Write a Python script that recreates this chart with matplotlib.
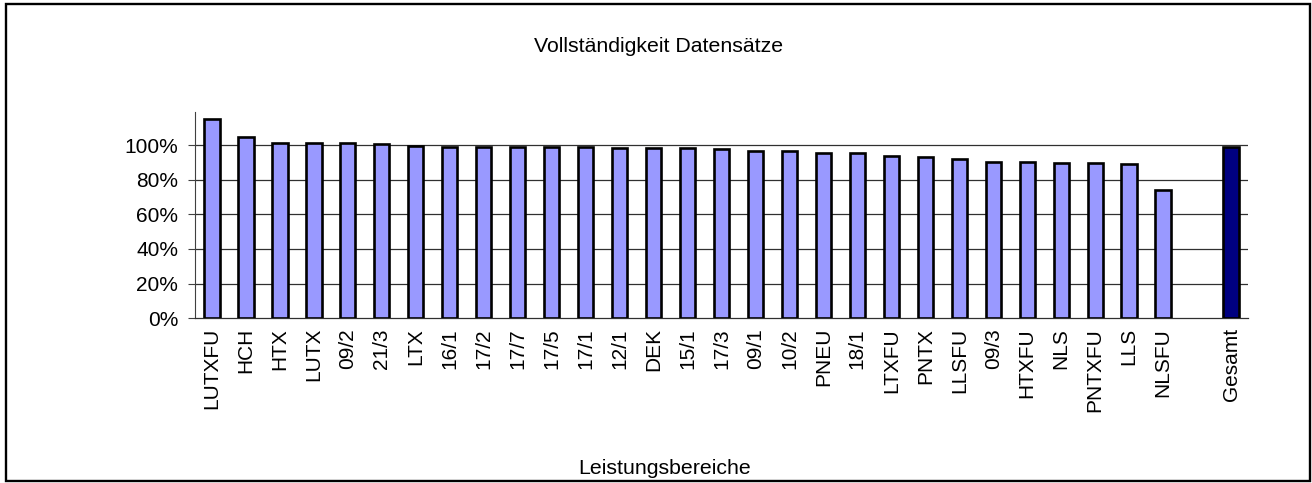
import matplotlib
matplotlib.use("Agg")
import matplotlib.pyplot as plt
from matplotlib.patches import Rectangle

plt.rcParams['font.family'] = ['Liberation Sans', 'DejaVu Sans']

categories = ["LUTXFU", "HCH", "HTX", "LUTX", "09/2", "21/3", "LTX", "16/1", "17/2", "17/7",
              "17/5", "17/1", "12/1", "DEK", "15/1", "17/3", "09/1", "10/2", "PNEU", "18/1",
              "LTXFU", "PNTX", "LLSFU", "09/3", "HTXFU", "NLS", "PNTXFU", "LLS", "NLSFU", "", "Gesamt"]
values = [1.150, 1.044, 1.013, 1.010, 1.010, 1.006, 0.994, 0.990, 0.990, 0.990,
          0.990, 0.987, 0.983, 0.981, 0.981, 0.977, 0.967, 0.967, 0.956, 0.956,
          0.938, 0.929, 0.921, 0.901, 0.900, 0.896, 0.894, 0.889, 0.740, None, 0.988]
ytick_values = [0.0, 0.2, 0.4, 0.6, 0.8, 1.0]
ytick_labels = ["0%", "20%", "40%", "60%", "80%", "100%"]
title = "Vollständigkeit Datensätze"
xlabel = "Leistungsbereiche"

W, H = 1312, 483
fig = plt.figure(figsize=(W / 100, H / 100), dpi=100)
ax_left, ax_right, ax_bottom_px, ax_top_px = 195, 1248, 318.3, 112.1
ax = fig.add_axes([ax_left / W, 1 - ax_bottom_px / H, (ax_right - ax_left) / W,
                   (ax_bottom_px - ax_top_px) / H])

xs = [i for i, v in enumerate(values) if v is not None]
vs = [v for v in values if v is not None]
colors = ['#000080' if categories[i] == 'Gesamt' else '#9999FF' for i in xs]
ax.bar(xs, vs, width=0.45, color=colors, edgecolor='black', linewidth=1.9, zorder=3)

ax.set_xlim(-0.5, len(categories) - 0.5)
ax.set_ylim(0, 1.19)
ax.set_xticks(range(len(categories)))
ax.set_xticklabels(categories, rotation=90, fontsize=15, va='top')
ax.tick_params(axis='x', length=0, pad=7)
ax.set_yticks(ytick_values)
ax.set_yticklabels(ytick_labels, fontsize=15)
ax.tick_params(axis='y', length=5, width=0.8, color='#404040', pad=7, direction='out')

for y in ytick_values[1:]:
    ax.axhline(y, color='#303030', linewidth=0.9, zorder=1)

for s in ['top', 'right']:
    ax.spines[s].set_visible(False)
ax.spines['left'].set_color('#404040')
ax.spines['left'].set_linewidth(0.8)
ax.spines['bottom'].set_color('#303030')
ax.spines['bottom'].set_linewidth(0.9)

fig.text(659 / W, 1 - 46 / H, title, ha='center', va='center', fontsize=15.3)
fig.text(665 / W, 1 - 468 / H, xlabel, ha='center', va='center', fontsize=15.3)

fig.patches.append(Rectangle((6 / W, 1 - 481 / H), (1310 - 6) / W, (481 - 4) / H,
                             transform=fig.transFigure, fill=False, edgecolor='black',
                             linewidth=1.7))

fig.savefig("out.png", dpi=100)
